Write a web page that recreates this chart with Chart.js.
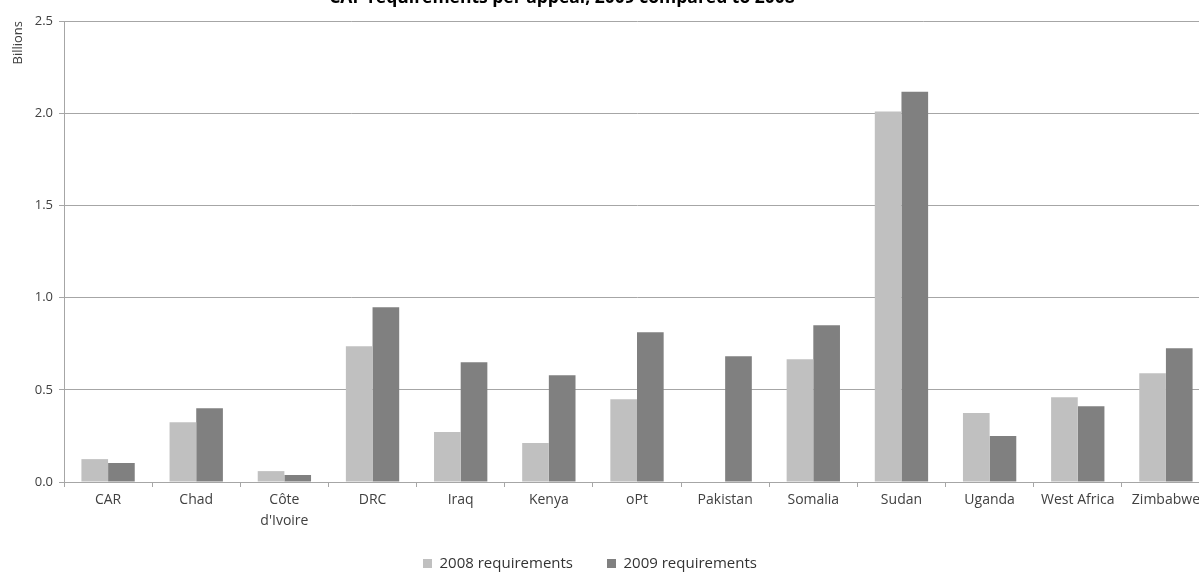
<!DOCTYPE html>
<html>
<head>
<meta charset="utf-8">
<script src="https://cdn.jsdelivr.net/npm/chart.js@4"></script>
<style>
  html, body { margin: 0; padding: 0; background: #fff; overflow: hidden; }
  #wrap { position: absolute; left: 0; top: 0; width: 1215px; height: 572px; }
</style>
</head>
<body>
<div id="wrap"><canvas id="c"></canvas></div>
<script>
// Appeals and their requirements (USD billions)
const categories = ['CAR', 'Chad', ['Côte', "d'Ivoire"], 'DRC', 'Iraq', 'Kenya', 'oPt', 'Pakistan', 'Somalia', 'Sudan', 'Uganda', 'West Africa', 'Zimbabwe'];
const req2008 = [0.124, 0.324, 0.059, 0.736, 0.271, 0.211, 0.449, 0, 0.666, 2.009, 0.374, 0.460, 0.590];
const req2009 = [0.103, 0.400, 0.038, 0.948, 0.650, 0.579, 0.812, 0.682, 0.850, 2.117, 0.249, 0.411, 0.725];
const seriesNames = ['2008 requirements', '2009 requirements'];
const yTicks = [0, 0.5, 1.0, 1.5, 2.0, 2.5];
const titleText = 'CAP requirements per appeal, 2009 compared to 2008';

const FONT = "'Open Sans', 'DejaVu Sans', sans-serif";
const LINE = '#a6a6a6';

// Moves the title and legend to their final spots after the layout pass
const nudge = {
  id: 'nudge',
  afterLayout(chart) {
    const t = chart.titleBlock;
    if (t) {
      const h = t.height;
      t.left -= 43; t.right -= 43;
      t.top = -12; t.bottom = t.top + h;
    }
    const l = chart.legend;
    if (l) {
      const h = l.height;
      l.left -= 15; l.right -= 15;
      l.top = 522; l.bottom = l.top + h;
    }
  }
};

new Chart(document.getElementById('c'), {
  type: 'bar',
  data: {
    labels: categories,
    datasets: [
      { label: seriesNames[0], data: req2008, backgroundColor: '#c0c0c0' },
      { label: seriesNames[1], data: req2009, backgroundColor: '#808080' }
    ]
  },
  options: {
    responsive: true,
    maintainAspectRatio: false,
    animation: false,
    layout: { padding: { top: 0, right: 5, left: 0, bottom: -24 } },
    datasets: { bar: { categoryPercentage: 0.605, barPercentage: 1.0 } },
    plugins: {
      title: {
        display: true,
        text: titleText,
        color: '#000',
        font: { family: FONT, size: 17.5, weight: 'bold', lineHeight: 1.2 },
        padding: 0
      },
      legend: {
        position: 'bottom',
        labels: {
          color: '#333',
          font: { family: FONT, size: 15 },
          boxWidth: 9,
          boxHeight: 9,
          padding: 34
        }
      },
      tooltip: { enabled: false }
    },
    scales: {
      x: {
        offset: true,
        afterFit(scale) { scale.height = 55; },
        grid: { offset: true, drawOnChartArea: false, drawTicks: true, tickLength: 5, color: LINE },
        border: { color: LINE },
        ticks: { color: '#404040', font: { family: FONT, size: 14, lineHeight: 1.5 }, autoSkip: false, maxRotation: 0, padding: 3 }
      },
      y: {
        min: 0,
        max: 2.5,
        afterFit(scale) { scale.width = 64; },
        afterBuildTicks(scale) { scale.ticks = yTicks.map(v => ({ value: v })); },
        grid: { color: LINE, tickLength: 5 },
        border: { color: LINE },
        ticks: {
          color: '#404040',
          font: { family: FONT, size: 13 },
          padding: 6,
          callback: v => Number(v).toFixed(1)
        },
        title: {
          display: true,
          text: 'Billions',
          align: 'end',
          color: '#404040',
          font: { family: FONT, size: 13 },
          padding: { top: 10, bottom: 0 }
        }
      }
    }
  },
  plugins: [nudge]
});
</script>
</body>
</html>
